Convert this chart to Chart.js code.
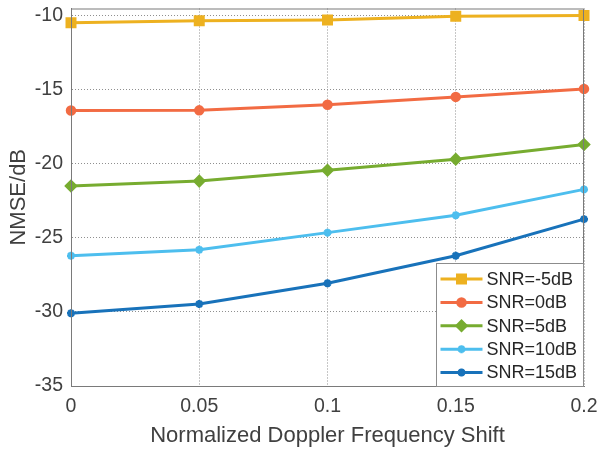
<!DOCTYPE html>
<html>
<head>
<meta charset="utf-8">
<script src="https://cdn.jsdelivr.net/npm/chart.js@4/dist/chart.umd.min.js"></script>
<style>
  html, body { margin: 0; padding: 0; background: #ffffff; }
  #wrap { width: 598px; height: 449px; position: relative; }
</style>
</head>
<body>
<div id="wrap"><canvas id="c" width="598" height="449"></canvas></div>
<script>
// Normalized Doppler frequency shift (x) and NMSE in dB for each SNR
const dopplerShift = [0, 0.05, 0.1, 0.15, 0.2];
const snrLabels = ['SNR=-5dB', 'SNR=0dB', 'SNR=5dB', 'SNR=10dB', 'SNR=15dB'];
const nmseSnrM5 = [-10.47, -10.33, -10.27, -10.02, -9.98];
const nmseSnr0  = [-16.39, -16.38, -16.0, -15.47, -14.93];
const nmseSnr5  = [-21.49, -21.16, -20.42, -19.69, -18.68];
const nmseSnr10 = [-26.2, -25.8, -24.64, -23.46, -21.72];
const nmseSnr15 = [-30.09, -29.46, -28.06, -26.2, -23.73];
const xTicks = [0, 0.05, 0.1, 0.15, 0.2];
const yTicks = [-35, -30, -25, -20, -15, -10];

const seriesValues = [nmseSnrM5, nmseSnr0, nmseSnr5, nmseSnr10, nmseSnr15];
const seriesColors = ['#EDB120', '#F26B43', '#77AC30', '#4DBEEE', '#1872BA'];
const seriesMarkers = ['rect', 'circle', 'rectRot', 'star', 'star'];
const seriesRadius = [6, 4, 5, 4, 4];

const FONT = '"Liberation Sans", Arial, Helvetica, sans-serif';
const TEXT = '#404040';
const AXIS = '#7a7a7a';

const datasets = seriesValues.map((vals, i) => ({
  label: snrLabels[i],
  data: vals.map((v, j) => ({ x: dopplerShift[j], y: v })),
  borderColor: seriesColors[i],
  backgroundColor: seriesColors[i],
  borderWidth: 3,
  pointStyle: seriesMarkers[i],
  pointRadius: seriesRadius[i],
  pointBorderWidth: 2.5,
  pointBackgroundColor: seriesColors[i],
  pointBorderColor: seriesColors[i],
  tension: 0,
  clip: false
}));

// keep the plot area where the layout padding puts it (no label overhang)
function noOverhang(s) {
  s.paddingTop = 0; s.paddingBottom = 0; s.paddingLeft = 0; s.paddingRight = 0;
}

// Frame round the plot area plus a boxed legend in the lower right corner
const frameAndLegend = {
  id: 'frameAndLegend',
  afterDatasetsDraw(chart) {
    const { ctx, chartArea: a } = chart;
    ctx.save();
    ctx.strokeStyle = AXIS;
    ctx.lineWidth = 1;
    ctx.strokeRect(a.left + 0.5, a.top + 0.5, a.right - a.left - 1, a.bottom - a.top);

    const boxW = 147, boxH = 123;
    const bx = Math.round(a.right - boxW) - 0.5;
    const by = Math.round(a.bottom - boxH) + 0.5;
    ctx.fillStyle = '#ffffff';
    ctx.fillRect(bx, by, boxW, boxH);
    ctx.strokeStyle = '#8c8c8c';
    ctx.strokeRect(bx, by, boxW, boxH);

    ctx.font = '18px ' + FONT;
    ctx.textBaseline = 'middle';
    ctx.textAlign = 'left';
    chart.data.datasets.forEach((ds, i) => {
      const y = by + 15.6 + i * 23.35;
      const x0 = bx + 4, x1 = bx + 46;
      ctx.strokeStyle = ds.borderColor;
      ctx.lineWidth = 3;
      ctx.beginPath();
      ctx.moveTo(x0, y);
      ctx.lineTo(x1, y);
      ctx.stroke();
      ctx.fillStyle = ds.pointBackgroundColor;
      ctx.strokeStyle = ds.pointBorderColor;
      ctx.lineWidth = ds.pointBorderWidth;
      Chart.helpers.drawPoint(ctx, {
        pointStyle: ds.pointStyle, radius: ds.pointRadius, rotation: 0, borderWidth: ds.pointBorderWidth
      }, (x0 + x1) / 2, y);
      ctx.fillStyle = '#262626';
      ctx.fillText(ds.label, bx + 50, y + 1);
    });
    ctx.restore();
  }
};

new Chart(document.getElementById('c'), {
  type: 'line',
  data: { datasets },
  plugins: [frameAndLegend],
  options: {
    responsive: false,
    animation: false,
    layout: { padding: { top: 6, right: 14, left: 0, bottom: 0 } },
    plugins: { legend: { display: false }, tooltip: { enabled: false } },
    scales: {
      x: {
        type: 'linear',
        min: 0, max: 0.2,
        afterBuildTicks(s) { s.ticks = xTicks.map(v => ({ value: v })); },
        afterFit(s) { s.height = 63; noOverhang(s); },
        ticks: {
          color: TEXT, padding: 9, maxRotation: 0,
          font: { family: FONT, size: 19.5 },
          callback: v => String(v)
        },
        grid: { color: '#8f8f8f', lineWidth: 1, drawTicks: false },
        border: { display: true, color: AXIS, dash: [1, 2], width: 1 },
        title: {
          display: true, text: 'Normalized Doppler Frequency Shift',
          color: TEXT, font: { family: FONT, size: 22 },
          padding: { top: 0, bottom: 0 }
        }
      },
      y: {
        type: 'linear',
        min: -35, max: -9.5,
        afterBuildTicks(s) { s.ticks = yTicks.map(v => ({ value: v })); },
        afterFit(s) { s.width = 71; noOverhang(s); },
        ticks: {
          color: TEXT, padding: 8,
          font: { family: FONT, size: 19.5 },
          callback: v => String(v)
        },
        grid: { color: '#8f8f8f', lineWidth: 1, drawTicks: false },
        border: { display: true, color: AXIS, dash: [1, 2], width: 1 },
        title: {
          display: true, text: 'NMSE/dB',
          color: TEXT, font: { family: FONT, size: 22 },
          padding: { top: 6, bottom: 0 }
        }
      }
    }
  }
});
</script>
</body>
</html>
